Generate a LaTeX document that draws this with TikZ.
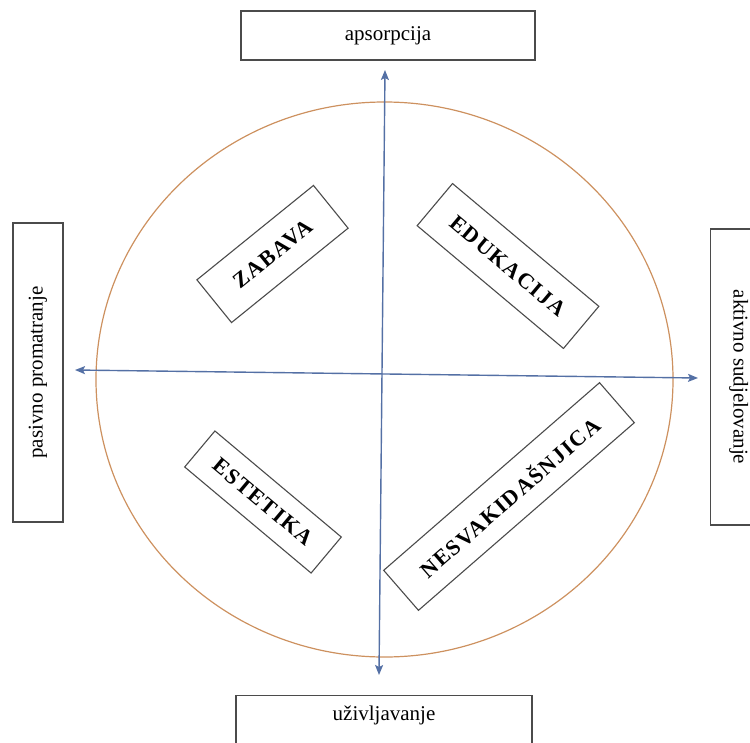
\documentclass[tikz,border=0pt]{standalone}
\usepackage{fontspec}
\setmainfont{Liberation Serif}
\usetikzlibrary{arrows.meta}
\definecolor{boxgray}{RGB}{75,75,75}
\definecolor{axisblue}{RGB}{84,112,165}
\definecolor{ringorange}{RGB}{205,145,95}
\newcommand\labfont{\fontsize{21}{25}\selectfont}
\newcommand\quadfont{\fontsize{22}{26}\selectfont\bfseries\addfontfeature{LetterSpace=7}}
\begin{document}
\begin{tikzpicture}[x=1pt,y=-1pt,
  lblbox/.style={draw=boxgray, line width=1.1pt, font=\labfont, inner sep=4pt},
  quadbox/.style={draw=boxgray, line width=1.1pt, font=\quadfont, inner sep=2pt},
  axis/.style={draw=axisblue, line width=1.4pt, {Stealth[length=10pt,width=8pt,inset=2pt]}-{Stealth[length=10pt,width=8pt,inset=2pt]}},
  ring/.style={draw=ringorange, line width=1.2pt}]
\useasboundingbox (0,0) rectangle (750,742);

% circle
\coordinate (cen) at (384.5,379.5);
\draw[ring] (cen) ellipse [x radius=288.5pt, y radius=277.5pt];

% axes
\coordinate (vt) at (385,70);
\coordinate (vb) at (379,675);
\coordinate (hl) at (75,370);
\coordinate (hr) at (698,378);
\draw[axis] (vb) -- (vt);
\draw[axis] (hl) -- (hr);

% outer label boxes
\node[lblbox, minimum width=294pt, minimum height=49pt] (abs) at (388,35.5) {apsorpcija};
\node[lblbox, rotate=90, minimum width=299pt, minimum height=50pt] (pas) at (38,372.5) {pasivno promatranje};
\node[lblbox, rotate=-90, anchor=south, minimum width=296pt,
      text height=48pt, text depth=15pt, inner ysep=8pt] (akt) at (710,377) {aktivno sudjelovanje};
\node[lblbox, anchor=north, minimum width=296pt,
      text height=17pt, text depth=60pt, inner ysep=8pt] (uziv) at (384,695) {uživljavanje};

% quadrant boxes
\node[quadbox, rotate=39, minimum width=150pt, minimum height=55pt] (zab) at (272.5,254) {ZABAVA};
\node[quadbox, rotate=-40, minimum width=191pt, minimum height=55pt] (edu) at (508,266) {EDUKACIJA};
\node[quadbox, rotate=-40, minimum width=165pt, minimum height=47pt] (est) at (263,502) {ESTETIKA};
\node[quadbox, rotate=41, minimum width=286pt, minimum height=53pt] (nes) at (509,496.5) {NESVAKIDAŠNJICA};
\end{tikzpicture}
\end{document}
